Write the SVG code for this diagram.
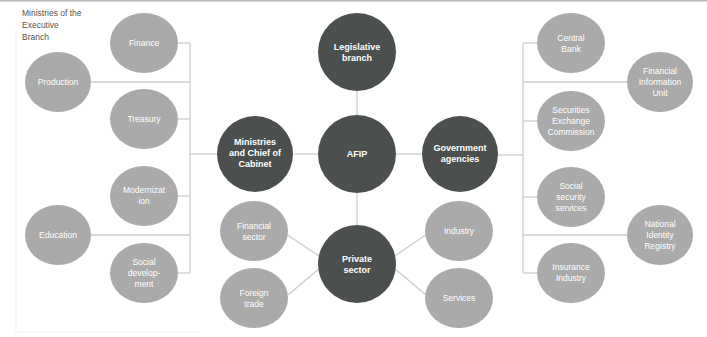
<svg xmlns="http://www.w3.org/2000/svg" width="707" height="337" viewBox="0 0 707 337">
<style>
.bg{fill:#ffffff}
.dark{fill:#4b4f4d}
.light{fill:#aaaaaa}
.c line,.c polyline{stroke:#cdcdcd;stroke-width:1.3;fill:none}
.frame{stroke:#efefef;stroke-width:1;fill:none}
text{font-family:"Liberation Sans",Arial,sans-serif;fill:#ffffff;text-anchor:middle}
.dt{font-size:9px;font-weight:bold}
.lt{font-size:8.5px}
.title{font-size:8.5px;fill:#555555;text-anchor:start}
</style>
<rect class="bg" x="0" y="0" width="707" height="337"/>
<line x1="0" y1="0.8" x2="707" y2="0.8" stroke="#b8b8b8" stroke-width="1.6"/>
<polyline class="frame" points="16,30 16,332 200,332"/>
<text class="title" x="22" y="16">Ministries of the</text>
<text class="title" x="22" y="28">Executive</text>
<text class="title" x="22" y="40">Branch</text>
<g class="c" id="connectors">
<line x1="357" y1="90" x2="357" y2="116"/>
<line x1="357" y1="192" x2="357" y2="226"/>
<line x1="294" y1="154" x2="318" y2="154"/>
<line x1="396" y1="154" x2="421" y2="154"/>
<line x1="286" y1="234" x2="322" y2="258"/>
<line x1="288" y1="295" x2="320" y2="268"/>
<line x1="427" y1="234" x2="392" y2="258"/>
<line x1="426" y1="295" x2="394" y2="268"/>
<line x1="190" y1="43" x2="190" y2="273"/>
<line x1="178" y1="43" x2="190" y2="43"/>
<line x1="91" y1="82" x2="190" y2="82"/>
<line x1="178" y1="119" x2="190" y2="119"/>
<line x1="190" y1="154" x2="217" y2="154"/>
<line x1="178" y1="196" x2="190" y2="196"/>
<line x1="91" y1="235" x2="190" y2="235"/>
<line x1="178" y1="273" x2="190" y2="273"/>
<line x1="523" y1="43" x2="523" y2="273"/>
<line x1="523" y1="43" x2="538" y2="43"/>
<line x1="523" y1="82" x2="627" y2="82"/>
<line x1="523" y1="121" x2="538" y2="121"/>
<line x1="498" y1="155" x2="523" y2="155"/>
<line x1="523" y1="197" x2="538" y2="197"/>
<line x1="523" y1="235" x2="627" y2="235"/>
<line x1="523" y1="273" x2="538" y2="273"/>
</g>
<g id="legislative"><circle class="dark" cx="357" cy="52" r="39"/><text class="dt" x="357" y="50">Legislative</text><text class="dt" x="357" y="61">branch</text></g>
<g id="afip"><circle class="dark" cx="357" cy="154" r="39"/><text class="dt" x="357" y="157">AFIP</text></g>
<g id="ministries"><circle class="dark" cx="255" cy="154" r="38"/><text class="dt" x="255" y="145">Ministries</text><text class="dt" x="255" y="156">and Chief of</text><text class="dt" x="255" y="167">Cabinet</text></g>
<g id="government"><circle class="dark" cx="460" cy="154" r="38"/><text class="dt" x="460" y="151">Government</text><text class="dt" x="460" y="162">agencies</text></g>
<g id="private"><circle class="dark" cx="357" cy="264" r="39"/><text class="dt" x="357" y="262">Private</text><text class="dt" x="357" y="273">sector</text></g>
<g id="financial-sector"><ellipse class="light" cx="254" cy="231" rx="34" ry="30"/><text class="lt" x="254" y="229">Financial</text><text class="lt" x="254" y="240">sector</text></g>
<g id="foreign-trade"><ellipse class="light" cx="254" cy="298" rx="34" ry="30"/><text class="lt" x="254" y="296">Foreign</text><text class="lt" x="254" y="307">trade</text></g>
<g id="industry"><ellipse class="light" cx="459" cy="231" rx="34" ry="30"/><text class="lt" x="459" y="234">Industry</text></g>
<g id="services"><ellipse class="light" cx="459" cy="298" rx="34" ry="30"/><text class="lt" x="459" y="301">Services</text></g>
<g id="finance"><ellipse class="light" cx="144" cy="43" rx="34" ry="30"/><text class="lt" x="144" y="46">Finance</text></g>
<g id="production"><ellipse class="light" cx="58" cy="82" rx="33" ry="30"/><text class="lt" x="58" y="85">Production</text></g>
<g id="treasury"><ellipse class="light" cx="144" cy="119" rx="34" ry="30"/><text class="lt" x="144" y="122">Treasury</text></g>
<g id="modernization"><ellipse class="light" cx="144" cy="196" rx="34" ry="30"/><text class="lt" x="144" y="193">Modernizat</text><text class="lt" x="144" y="204">ion</text></g>
<g id="education"><ellipse class="light" cx="58" cy="235" rx="33" ry="30"/><text class="lt" x="58" y="238">Education</text></g>
<g id="social-development"><ellipse class="light" cx="144" cy="273" rx="34" ry="30"/><text class="lt" x="144" y="265">Social</text><text class="lt" x="144" y="276">develop-</text><text class="lt" x="144" y="287">ment</text></g>
<g id="central-bank"><ellipse class="light" cx="571" cy="43" rx="34" ry="30"/><text class="lt" x="571" y="41">Central</text><text class="lt" x="571" y="52">Bank</text></g>
<g id="fiu"><ellipse class="light" cx="660" cy="82" rx="33" ry="30"/><text class="lt" x="660" y="74">Financial</text><text class="lt" x="660" y="85">Information</text><text class="lt" x="660" y="96">Unit</text></g>
<g id="sec"><ellipse class="light" cx="571" cy="121" rx="34" ry="30"/><text class="lt" x="571" y="113">Securities</text><text class="lt" x="571" y="124">Exchange</text><text class="lt" x="571" y="135">Commission</text></g>
<g id="social-security"><ellipse class="light" cx="571" cy="197" rx="34" ry="30"/><text class="lt" x="571" y="189">Social</text><text class="lt" x="571" y="200">security</text><text class="lt" x="571" y="211">services</text></g>
<g id="identity"><ellipse class="light" cx="660" cy="235" rx="33" ry="30"/><text class="lt" x="660" y="227">National</text><text class="lt" x="660" y="238">Identity</text><text class="lt" x="660" y="249">Registry</text></g>
<g id="insurance"><ellipse class="light" cx="571" cy="273" rx="34" ry="30"/><text class="lt" x="571" y="270">Insurance</text><text class="lt" x="571" y="281">Industry</text></g>
</svg>
